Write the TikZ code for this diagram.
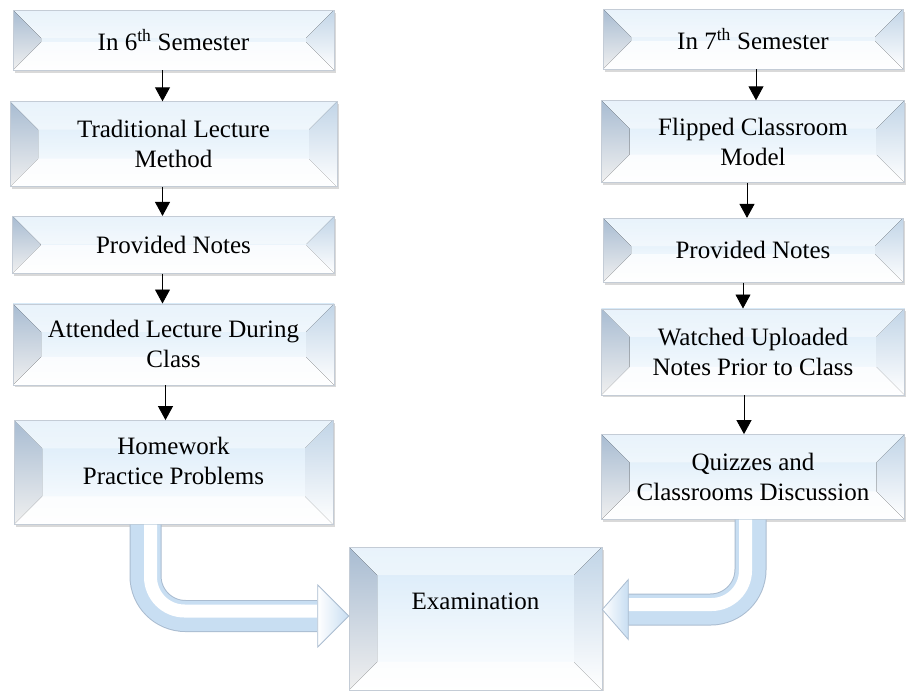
\documentclass[tikz,border=0pt]{standalone}
\usepackage{fontspec}
\setmainfont{Liberation Serif}
\usepackage{tikz}
\usetikzlibrary{positioning, calc, shadows, arrows.meta}

\definecolor{bevtop}{RGB}{214,233,248}
\definecolor{bevside}{RGB}{168,188,210}
\definecolor{bevedge}{RGB}{196,204,214}
\definecolor{fatblue}{RGB}{200,222,242}
\definecolor{fatedge}{RGB}{170,188,208}

\newcommand{\bevd}{28pt}

\begin{document}
\begin{tikzpicture}[x=1pt, y=1pt,
  box/.style={rectangle, draw=bevedge, line width=0.6pt, align=center, inner sep=2pt,
    font=\fontsize{25}{30}\selectfont, top color=bevtop, bottom color=white,
    drop shadow={shadow xshift=1.5pt, shadow yshift=-2.5pt, opacity=0.3},
    path picture={
      \path (path picture bounding box.north west) coordinate (pnw)
            (path picture bounding box.north east) coordinate (pne)
            (path picture bounding box.south west) coordinate (psw)
            (path picture bounding box.south east) coordinate (pse);
      % top and bottom bevel
      \fill[white, fill opacity=0.45] (pnw) -- ([shift={(\bevd,-\bevd)}]pnw)
        -- ([shift={(-\bevd,-\bevd)}]pne) -- (pne) -- cycle;
      \fill[white, fill opacity=0.7] (psw) -- ([shift={(\bevd,\bevd)}]psw)
        -- ([shift={(-\bevd,\bevd)}]pse) -- (pse) -- cycle;
      % left and right bevel
      \fill[top color=bevside, bottom color=white!94!black] (pnw) -- ([shift={(\bevd,-\bevd)}]pnw)
        -- ([shift={(\bevd,\bevd)}]psw) -- (psw) -- cycle;
      \fill[top color=bevtop!55!bevside, bottom color=white] (pne) -- ([shift={(-\bevd,-\bevd)}]pne)
        -- ([shift={(-\bevd,\bevd)}]pse) -- (pse) -- cycle;
    }},
  flow/.style={-{Triangle[width=15pt, length=14pt]}, line width=0.9pt},
  fat/.style={line width=32pt, draw=fatedge, rounded corners=40pt},
  fatfill/.style={line width=30pt, draw=fatblue, rounded corners=40pt},
  fatshine/.style={line width=13pt, draw=white, rounded corners=34pt},
  fathead/.style={left color=white, right color=fatblue, draw=fatedge, line width=0.8pt}]

\useasboundingbox (0,0) rectangle (908,-691);

% 6th semester
\node[box, minimum width=321pt, minimum height=60pt] (l1) at (173.5,-40) {In 6\textsuperscript{th} Semester};
\node[box, minimum width=327pt, minimum height=85pt, below=31pt of l1] (l2) {Traditional Lecture\\Method};
\node[box, minimum width=322pt, minimum height=57pt, below=29pt of l2] (l3) {Provided Notes};
\node[box, minimum width=321pt, minimum height=81pt, below=30pt of l3] (l4) {Attended Lecture During\\Class};
\node[box, minimum width=319pt, minimum height=104pt, text depth=24pt, below=35pt of l4] (l5) {Homework\\Practice Problems};

\draw[flow] ([xshift=-11pt]l1.south) -- ([xshift=-11pt]l2.north);
\draw[flow] ([xshift=-11pt]l2.south) -- ([xshift=-11pt]l3.north);
\draw[flow] ([xshift=-11pt]l3.south) -- ([xshift=-11pt]l4.north);
\draw[flow] ([xshift=-8pt]l4.south) -- ([xshift=-8pt]l5.north);

% 7th semester
\node[box, minimum width=300pt, minimum height=60pt] (r1) at (753,-39) {In 7\textsuperscript{th} Semester};
\node[box, minimum width=303pt, minimum height=82pt, below=31pt of r1] (r2) {Flipped Classroom\\Model};
\node[box, minimum width=300pt, minimum height=64pt, below=35pt of r2] (r3) {Provided Notes};
\node[box, minimum width=303pt, minimum height=86pt, below=26pt of r3] (r4) {Watched Uploaded\\Notes Prior to Class};
\node[box, minimum width=303pt, minimum height=85pt, below=39pt of r4] (r5) {Quizzes and\\Classrooms Discussion};

\draw[flow] ([xshift=3pt]r1.south) -- ([xshift=3pt]r2.north);
\draw[flow] ([xshift=-6pt]r2.south) -- ([xshift=-6pt]r3.north);
\draw[flow] ([xshift=-10pt]r3.south) -- ([xshift=-10pt]r4.north);
\draw[flow] ([xshift=-9pt]r4.south) -- ([xshift=-9pt]r5.north);

% examination
\node[box, minimum width=253pt, minimum height=143pt, text depth=34pt] (exam) at (475.5,-618.5) {Examination};

% fat arrows into the examination
\coordinate (lbend) at ([xshift=-28pt]l5.south);
\coordinate (lhead) at ([xshift=-31pt, yshift=2.5pt]exam.west);
\coordinate (ltip) at ([yshift=2.5pt]exam.west);
\draw[fat] (lbend) |- (lhead);
\draw[fatfill] (lbend) |- (lhead);
\draw[fatshine] ([xshift=5pt]lbend) |- ([yshift=5pt]lhead);
\draw[fathead] ([yshift=31pt]lhead) -- (ltip) -- ([yshift=-31pt]lhead) -- cycle;

\coordinate (rbend) at ([xshift=-2.5pt]r5.south);
\coordinate (rhead) at ([xshift=26pt, yshift=9pt]exam.east);
\coordinate (rtip) at ([yshift=9pt]exam.east);
\draw[fat] (rbend) |- (rhead);
\draw[fatfill] (rbend) |- (rhead);
\draw[fatshine] ([xshift=-5pt]rbend) |- ([yshift=5pt]rhead);
\draw[fathead] ([yshift=30pt]rhead) -- (rtip) -- ([yshift=-30pt]rhead) -- cycle;

\end{tikzpicture}
\end{document}
